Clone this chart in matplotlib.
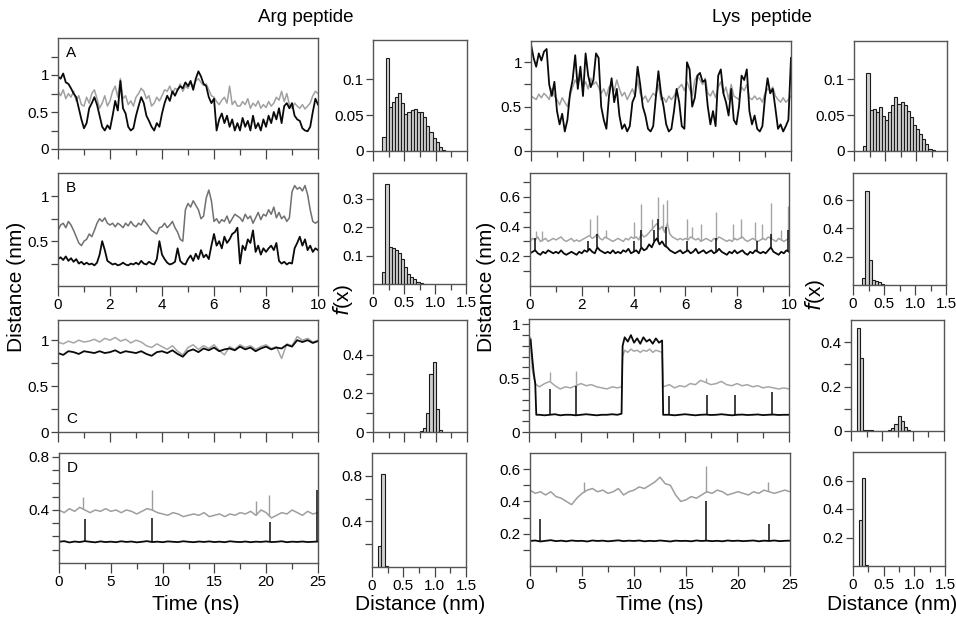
import numpy as np
import matplotlib
matplotlib.use("Agg")
import matplotlib.pyplot as plt

plt.rcParams['font.family'] = ['Liberation Sans', 'DejaVu Sans']
plt.rcParams['font.size'] = 10

# ---------------- data ----------------
t10 = np.linspace(0, 10, 101)   # 10 ns runs, 0.1 ns sampling
t25 = np.linspace(0, 25, 51)    # 25 ns runs, 0.5 ns sampling

# Arg peptide, panel A
arg_a_black = [0.98, 0.95, 1.02, 0.90, 0.88, 0.82, 0.75, 0.70, 0.55, 0.40,
               0.28, 0.35, 0.55, 0.62, 0.70, 0.60, 0.45, 0.30, 0.25, 0.32,
               0.27, 0.45, 0.65, 0.52, 0.92, 0.55, 0.48, 0.30, 0.25, 0.28,
               0.45, 0.58, 0.70, 0.62, 0.45, 0.38, 0.30, 0.25, 0.35, 0.30,
               0.48, 0.62, 0.72, 0.65, 0.78, 0.72, 0.80, 0.85, 0.82, 0.90,
               0.85, 0.92, 0.80, 0.95, 1.05, 0.98, 0.88, 0.85, 0.70, 0.62,
               0.68, 0.25, 0.40, 0.48, 0.35, 0.45, 0.30, 0.40, 0.25, 0.35,
               0.25, 0.42, 0.30, 0.38, 0.25, 0.45, 0.28, 0.35, 0.25, 0.40,
               0.30, 0.45, 0.35, 0.50, 0.40, 0.55, 0.35, 0.58, 0.62, 0.55,
               0.62, 0.45, 0.40, 0.38, 0.28, 0.25, 0.24, 0.30, 0.50, 0.68, 0.60]
arg_a_gray = [0.78, 0.72, 0.80, 0.68, 0.75, 0.70, 0.78, 0.65, 0.72, 0.60,
              0.58, 0.70, 0.62, 0.75, 0.80, 0.68, 0.55, 0.62, 0.72, 0.58,
              0.65, 0.78, 0.85, 0.70, 0.95, 0.68, 0.72, 0.60, 0.65, 0.58,
              0.70, 0.75, 0.82, 0.78, 0.68, 0.72, 0.58, 0.62, 0.70, 0.65,
              0.72, 0.80, 0.78, 0.85, 0.75, 0.82, 0.80, 0.88, 0.78, 0.85,
              0.82, 0.90, 0.84, 0.92, 0.95, 0.90, 0.86, 0.88, 0.80, 0.72,
              0.70, 0.64, 0.60, 0.66, 0.70, 0.62, 0.85, 0.60, 0.65, 0.58,
              0.58, 0.64, 0.60, 0.68, 0.55, 0.62, 0.58, 0.65, 0.55, 0.60,
              0.56, 0.64, 0.58, 0.62, 0.70, 0.66, 0.78, 0.64, 0.75, 0.60,
              0.55, 0.62, 0.58, 0.55, 0.60, 0.54, 0.58, 0.62, 0.72, 0.78, 0.75]

# Arg peptide, panel B
arg_b_black = [0.30, 0.32, 0.29, 0.33, 0.28, 0.31, 0.27, 0.30, 0.25, 0.27,
               0.24, 0.26, 0.24, 0.25, 0.23, 0.26, 0.35, 0.50, 0.40, 0.28,
               0.26, 0.24, 0.25, 0.23, 0.24, 0.26, 0.24, 0.23, 0.25, 0.24,
               0.26, 0.24, 0.28, 0.25, 0.24, 0.27, 0.25, 0.24, 0.30, 0.50,
               0.35, 0.30, 0.26, 0.24, 0.25, 0.27, 0.42, 0.28, 0.25, 0.24,
               0.30, 0.34, 0.28, 0.36, 0.30, 0.40, 0.32, 0.35, 0.30, 0.45,
               0.58, 0.45, 0.50, 0.42, 0.55, 0.48, 0.52, 0.58, 0.60, 0.65,
               0.25, 0.45, 0.40, 0.52, 0.48, 0.62, 0.38, 0.45, 0.35, 0.42,
               0.38, 0.42, 0.45, 0.40, 0.48, 0.28, 0.25, 0.27, 0.24, 0.26,
               0.25, 0.42, 0.48, 0.55, 0.45, 0.52, 0.40, 0.45, 0.38, 0.42, 0.40]
arg_b_gray = [0.62, 0.68, 0.70, 0.65, 0.72, 0.68, 0.62, 0.55, 0.48, 0.45,
              0.50, 0.52, 0.58, 0.55, 0.62, 0.70, 0.75, 0.72, 0.76, 0.70,
              0.68, 0.70, 0.66, 0.70, 0.68, 0.65, 0.70, 0.67, 0.72, 0.68,
              0.66, 0.70, 0.68, 0.74, 0.70, 0.66, 0.62, 0.60, 0.58, 0.65,
              0.66, 0.70, 0.65, 0.68, 0.72, 0.65, 0.60, 0.52, 0.50, 0.85,
              0.92, 0.88, 0.95, 0.90, 0.85, 0.75, 0.78, 0.98, 1.07, 0.95,
              0.72, 0.75, 0.70, 0.74, 0.72, 0.78, 0.70, 0.75, 0.80, 0.78,
              0.76, 0.72, 0.80, 0.75, 0.78, 0.70, 0.76, 0.82, 0.74, 0.80,
              0.78, 0.85, 0.80, 0.88, 0.76, 0.82, 0.75, 0.78, 0.72, 0.76,
              1.05, 1.12, 1.08, 1.10, 1.06, 1.12, 1.02, 0.85, 0.72, 0.70, 0.72]

# Arg peptide, panel C (25 ns)
arg_c_black = [0.86, 0.84, 0.88, 0.87, 0.85, 0.88, 0.87, 0.86, 0.88, 0.86,
               0.87, 0.89, 0.86, 0.88, 0.87, 0.86, 0.88, 0.85, 0.83, 0.87,
               0.88, 0.86, 0.89, 0.85, 0.82, 0.88, 0.90, 0.87, 0.91, 0.89,
               0.92, 0.88, 0.90, 0.91, 0.89, 0.93, 0.90, 0.92, 0.88, 0.91,
               0.93, 0.90, 0.92, 0.91, 0.95, 0.93, 1.00, 0.98, 1.00, 0.97, 0.99]
arg_c_gray = [0.98, 0.96, 0.99, 0.97, 1.00, 0.98, 0.99, 1.01, 0.98, 1.02,
              1.00, 1.03, 0.99, 1.01, 0.97, 1.00, 0.98, 0.94, 0.92, 0.96,
              0.93, 0.90, 0.94, 0.88, 0.84, 0.92, 0.95, 0.90, 0.94, 0.91,
              0.95, 0.89, 0.84, 0.93, 0.90, 0.95, 0.92, 0.94, 0.90, 0.93,
              0.95, 0.91, 0.93, 0.80, 0.96, 0.94, 1.04, 1.00, 1.02, 0.98, 1.00]

# Arg peptide, panel D (25 ns) + spikes
arg_d_black = [0.160, 0.165, 0.155, 0.162, 0.158, 0.165, 0.160, 0.156, 0.163, 0.158,
               0.161, 0.157, 0.164, 0.159, 0.162, 0.156, 0.160, 0.165, 0.158, 0.161,
               0.157, 0.163, 0.160, 0.158, 0.164, 0.160, 0.157, 0.162, 0.159, 0.163,
               0.158, 0.161, 0.157, 0.164, 0.160, 0.158, 0.162, 0.157, 0.161, 0.159,
               0.163, 0.158, 0.160, 0.164, 0.157, 0.161, 0.159, 0.162, 0.158, 0.160, 0.162]
arg_d_gray = [0.40, 0.38, 0.41, 0.39, 0.42, 0.40, 0.38, 0.40, 0.39, 0.41,
              0.39, 0.40, 0.38, 0.40, 0.39, 0.37, 0.39, 0.41, 0.40, 0.38,
              0.37, 0.36, 0.38, 0.37, 0.35, 0.36, 0.37, 0.36, 0.38, 0.35,
              0.36, 0.37, 0.35, 0.37, 0.36, 0.38, 0.37, 0.39, 0.36, 0.40,
              0.38, 0.34, 0.36, 0.38, 0.37, 0.40, 0.38, 0.36, 0.39, 0.37, 0.38]
arg_d_black_spk_t = [2.5, 9.0, 20.4, 24.9]
arg_d_black_spk_h = [0.33, 0.34, 0.31, 0.55]
arg_d_gray_spk_t = [2.3, 9.0, 19.0, 20.3]
arg_d_gray_spk_h = [0.50, 0.55, 0.47, 0.51]

# Lys peptide, panel A
lys_a_black = [1.20, 1.05, 0.95, 1.10, 1.02, 1.12, 1.15, 0.75, 0.62, 0.78,
               0.45, 0.30, 0.42, 0.22, 0.35, 0.65, 0.80, 1.08, 0.70, 0.95,
               0.62, 1.10, 0.85, 0.72, 0.80, 1.10, 1.05, 0.50, 0.35, 0.25,
               0.62, 0.82, 0.55, 0.70, 0.40, 0.25, 0.30, 0.22, 0.28, 0.55,
               0.62, 0.95, 0.75, 0.50, 0.40, 0.25, 0.22, 0.28, 0.60, 0.90,
               0.65, 0.50, 0.30, 0.22, 0.25, 0.45, 0.70, 0.55, 0.28, 0.25,
               1.00, 0.92, 0.50, 0.60, 0.85, 0.88, 0.78, 0.80, 0.50, 0.30,
               0.45, 0.28, 0.85, 0.92, 0.65, 0.55, 0.40, 0.70, 0.35, 0.30,
               0.50, 0.85, 0.80, 0.92, 0.45, 0.30, 0.40, 0.25, 0.22, 0.28,
               0.60, 0.82, 0.65, 0.70, 0.48, 0.25, 0.30, 0.22, 0.28, 0.35, 1.05]
lys_a_gray = [0.62, 0.60, 0.58, 0.64, 0.60, 0.65, 0.62, 0.58, 0.70, 0.62,
              0.58, 0.52, 0.60, 0.55, 0.50, 0.62, 0.72, 0.80, 0.75, 0.85,
              0.72, 0.78, 0.70, 0.82, 0.75, 0.78, 0.72, 0.65, 0.70, 0.62,
              0.72, 0.75, 0.68, 0.80, 0.70, 0.62, 0.66, 0.58, 0.64, 0.70,
              0.62, 0.80, 0.65, 0.58, 0.62, 0.55, 0.60, 0.65, 0.62, 0.75,
              0.58, 0.60, 0.55, 0.62, 0.58, 0.62, 0.68, 0.72, 0.75, 0.68,
              0.78, 0.70, 0.62, 0.80, 0.85, 0.80, 0.75, 0.82, 0.65, 0.62,
              0.68, 0.60, 0.72, 0.78, 0.65, 0.72, 0.58, 0.75, 0.62, 0.60,
              0.58, 0.72, 0.68, 0.75, 0.60, 0.58, 0.62, 0.58, 0.60, 0.55,
              0.65, 0.70, 0.68, 0.72, 0.62, 0.58, 0.55, 0.60, 0.55, 0.58, 0.62]

# Lys peptide, panel B + spikes
lys_b_black = [0.22, 0.23, 0.24, 0.22, 0.21, 0.23, 0.22, 0.24, 0.23, 0.22,
               0.23, 0.22, 0.24, 0.22, 0.21, 0.22, 0.23, 0.22, 0.21, 0.23,
               0.22, 0.24, 0.23, 0.25, 0.23, 0.22, 0.26, 0.24, 0.23, 0.22,
               0.23, 0.22, 0.24, 0.22, 0.23, 0.22, 0.24, 0.23, 0.25, 0.22,
               0.23, 0.24, 0.22, 0.26, 0.24, 0.25, 0.28, 0.26, 0.30, 0.32,
               0.28, 0.30, 0.27, 0.26, 0.24, 0.23, 0.22, 0.23, 0.24, 0.22,
               0.23, 0.24, 0.22, 0.23, 0.25, 0.22, 0.23, 0.24, 0.22, 0.23,
               0.24, 0.22, 0.23, 0.25, 0.23, 0.22, 0.21, 0.23, 0.22, 0.24,
               0.22, 0.23, 0.24, 0.22, 0.21, 0.23, 0.22, 0.24, 0.23, 0.22,
               0.23, 0.22, 0.24, 0.26, 0.23, 0.22, 0.21, 0.23, 0.22, 0.24, 0.23]
lys_b_gray = [0.30, 0.32, 0.31, 0.33, 0.30, 0.31, 0.32, 0.30, 0.31, 0.32,
              0.31, 0.32, 0.33, 0.31, 0.30, 0.31, 0.32, 0.30, 0.31, 0.30,
              0.31, 0.32, 0.33, 0.34, 0.32, 0.33, 0.35, 0.32, 0.31, 0.33,
              0.32, 0.31, 0.30, 0.31, 0.32, 0.31, 0.30, 0.32, 0.31, 0.33,
              0.32, 0.33, 0.31, 0.35, 0.33, 0.34, 0.36, 0.38, 0.40, 0.42,
              0.38, 0.40, 0.36, 0.42, 0.35, 0.33, 0.32, 0.31, 0.32, 0.31,
              0.32, 0.31, 0.33, 0.32, 0.31, 0.32, 0.30, 0.31, 0.32, 0.31,
              0.30, 0.32, 0.31, 0.33, 0.32, 0.31, 0.30, 0.31, 0.30, 0.32,
              0.31, 0.32, 0.33, 0.31, 0.30, 0.31, 0.32, 0.31, 0.30, 0.31,
              0.32, 0.31, 0.33, 0.32, 0.31, 0.30, 0.32, 0.31, 0.30, 0.31, 0.32]
lys_b_black_spk_t = [0.2, 2.25, 2.6, 4.0, 4.3, 4.8, 4.95, 5.25, 6.05, 7.2, 8.75, 9.3, 9.95]
lys_b_black_spk_h = [0.32, 0.30, 0.35, 0.30, 0.38, 0.38, 0.45, 0.40, 0.30, 0.32, 0.30, 0.35, 0.38]
lys_b_gray_spk_t = [0.25, 0.45, 2.3, 2.6, 2.95, 4.0, 4.3, 4.7, 4.95, 5.15, 5.3,
                    6.05, 6.25, 6.6, 7.2, 7.85, 8.15, 8.7, 8.95, 9.3, 9.7, 9.95]
lys_b_gray_spk_h = [0.37, 0.37, 0.45, 0.48, 0.38, 0.43, 0.55, 0.45, 0.60, 0.55, 0.58,
                    0.45, 0.40, 0.42, 0.50, 0.42, 0.45, 0.43, 0.42, 0.56, 0.38, 0.54]

# Lys peptide, panel C (irregular sampling around the jumps)
lys_c_t = [0.0, 0.15, 0.3, 0.45, 0.6, 0.7, 1.0, 1.5, 2.0, 2.5, 3.0, 3.5, 4.0, 4.5,
           5.0, 5.5, 6.0, 6.5, 7.0, 7.5, 8.0, 8.5, 8.9, 9.0, 9.2, 9.5, 9.8, 10.1,
           10.4, 10.7, 11.0, 11.3, 11.6, 11.9, 12.2, 12.5, 12.8, 12.9, 13.5, 14.0,
           14.5, 15.0, 15.5, 16.0, 16.5, 17.0, 17.5, 18.0, 18.5, 19.0, 19.5, 20.0,
           20.5, 21.0, 21.5, 22.0, 22.5, 23.0, 23.5, 24.0, 24.5, 25.0]
lys_c_black = [0.82, 0.86, 0.70, 0.55, 0.45, 0.16, 0.16, 0.155, 0.16, 0.165, 0.155, 0.16,
               0.16, 0.155, 0.16, 0.165, 0.16, 0.155, 0.16, 0.16, 0.165, 0.16, 0.17,
               0.80, 0.88, 0.84, 0.90, 0.83, 0.87, 0.82, 0.88, 0.84, 0.86, 0.82, 0.87,
               0.83, 0.85, 0.16, 0.16, 0.155, 0.16, 0.165, 0.16, 0.155, 0.16, 0.162,
               0.158, 0.16, 0.165, 0.16, 0.155, 0.16, 0.162, 0.158, 0.16, 0.163,
               0.157, 0.16, 0.162, 0.158, 0.16, 0.16]
lys_c_gray = [0.80, 0.88, 0.60, 0.52, 0.45, 0.44, 0.42, 0.45, 0.47, 0.43, 0.40, 0.42,
              0.41, 0.43, 0.45, 0.43, 0.44, 0.42, 0.41, 0.40, 0.42, 0.41, 0.42,
              0.70, 0.76, 0.74, 0.77, 0.75, 0.76, 0.74, 0.76, 0.75, 0.77, 0.74, 0.76,
              0.75, 0.74, 0.42, 0.44, 0.41, 0.43, 0.42, 0.45, 0.44, 0.48, 0.46,
              0.44, 0.45, 0.47, 0.44, 0.43, 0.45, 0.43, 0.44, 0.42, 0.43, 0.41,
              0.42, 0.41, 0.40, 0.41, 0.40]
lys_c_black_spk_t = [2.0, 4.5, 13.5, 17.1, 19.8, 23.4]
lys_c_black_spk_h = [0.40, 0.43, 0.33, 0.34, 0.34, 0.37]
lys_c_gray_spk_t = [2.0, 4.5, 17.0]
lys_c_gray_spk_h = [0.56, 0.57, 0.50]

# Lys peptide, panel D (25 ns) + spikes
lys_d_black = [0.155, 0.158, 0.152, 0.156, 0.160, 0.154, 0.157, 0.153, 0.158, 0.155,
               0.156, 0.152, 0.158, 0.155, 0.157, 0.153, 0.156, 0.159, 0.154, 0.157,
               0.155, 0.158, 0.153, 0.156, 0.154, 0.158, 0.155, 0.152, 0.157, 0.155,
               0.156, 0.153, 0.158, 0.155, 0.157, 0.154, 0.156, 0.153, 0.158, 0.155,
               0.157, 0.154, 0.156, 0.158, 0.153, 0.157, 0.155, 0.158, 0.154, 0.156, 0.157]
lys_d_gray = [0.47, 0.45, 0.46, 0.44, 0.46, 0.43, 0.42, 0.40, 0.38, 0.42,
              0.45, 0.47, 0.48, 0.46, 0.47, 0.45, 0.46, 0.48, 0.44, 0.46,
              0.47, 0.49, 0.48, 0.50, 0.52, 0.55, 0.51, 0.50, 0.44, 0.40,
              0.41, 0.43, 0.42, 0.44, 0.46, 0.45, 0.47, 0.46, 0.44, 0.45,
              0.46, 0.45, 0.44, 0.46, 0.45, 0.47, 0.46, 0.45, 0.46, 0.47, 0.46]
lys_d_black_spk_t = [1.0, 16.9, 23.0]
lys_d_black_spk_h = [0.29, 0.40, 0.26]
lys_d_gray_spk_t = [5.2, 16.9, 22.9]
lys_d_gray_spk_h = [0.52, 0.62, 0.52]

# distance histograms f(x): first bin edge and bar heights, bin width 0.05 nm
BIN = 0.05
arg_a_hist_start, arg_a_hist = 0.15, [0.019, 0.130, 0.061, 0.069, 0.076, 0.081, 0.067, 0.051,
                                      0.054, 0.057, 0.059, 0.055, 0.054, 0.048, 0.035, 0.026,
                                      0.018, 0.012, 0.005, 0.002, 0.0005]
arg_b_hist_start, arg_b_hist = 0.15, [0.042, 0.353, 0.130, 0.127, 0.120, 0.108, 0.088, 0.058,
                                      0.036, 0.025, 0.016, 0.008, 0.004, 0.001]
arg_c_hist_start, arg_c_hist = 0.75, [0.005, 0.020, 0.100, 0.300, 0.360, 0.120, 0.010]
arg_d_hist_start, arg_d_hist = 0.10, [0.18, 0.82, 0.01]
lys_a_hist_start, lys_a_hist = 0.15, [0.007, 0.108, 0.057, 0.059, 0.054, 0.061, 0.048, 0.043,
                                      0.054, 0.064, 0.075, 0.066, 0.068, 0.064, 0.055, 0.047,
                                      0.036, 0.031, 0.024, 0.017, 0.010, 0.003, 0.001]
lys_b_hist_start, lys_b_hist = 0.15, [0.047, 0.666, 0.176, 0.035, 0.030, 0.019, 0.007, 0.002]
lys_c_hist_start, lys_c_hist = 0.10, [0.466, 0.330, 0.005, 0.003, 0.003, 0.002, 0.002, 0.002,
                                      0.002, 0.002, 0.003, 0.012, 0.030, 0.068, 0.045, 0.020,
                                      0.005]
lys_d_hist_start, lys_d_hist = 0.10, [0.32, 0.62, 0.005]

# ---------------- figure ----------------
W, H = 956, 620
fig = plt.figure(figsize=(W / 100, H / 100), dpi=100)

FRAME = '#555555'
GRAY = '#a0a0a0'


def box(x0, y0, x1, y1):
    # pixel box -> figure axes
    return fig.add_axes([x0 / W, 1 - y1 / H, (x1 - x0) / W, (y1 - y0) / H])


def style(ax, xlim, ylim, xmaj, xmin, ymaj, ylab, ymin, xlab=None):
    ax.set_xlim(xlim)
    ax.set_ylim(ylim)
    ax.set_xticks(xmaj)
    ax.set_xticks(xmin, minor=True)
    ax.set_xticklabels(xlab if xlab is not None else [])
    ax.set_yticks(ymaj)
    ax.set_yticklabels(ylab)
    ax.set_yticks(ymin, minor=True)
    ax.tick_params(axis='both', which='both', direction='out', color='#444444',
                   width=0.9, labelsize=11, pad=1.5)
    ax.tick_params(axis='x', which='major', length=7)
    ax.tick_params(axis='x', which='minor', length=4.5)
    ax.tick_params(axis='y', which='both', length=5)
    for s in ax.spines.values():
        s.set_color(FRAME)
        s.set_linewidth(1.0)


def trace(ax, t, black, gray, gcol=GRAY, spikes=None, lw=1.3):
    ax.plot(t, gray, color=gcol, lw=1.1)
    ax.plot(t, black, color='#0a0a0a', lw=lw)
    if spikes:
        bt, bh, gt, gh = spikes
        ax.vlines(gt, np.interp(gt, t, gray), gh, color=gcol, lw=1.0)
        ax.vlines(bt, np.interp(bt, t, black), bh, color='#0a0a0a', lw=1.1)


def hist(ax, start, heights):
    edges = start + BIN * np.arange(len(heights))
    ax.bar(edges, heights, width=BIN, align='edge', color='#cfcfcf',
           edgecolor='#1a1a1a', linewidth=0.8)


x10 = dict(xlim=(0, 10), xmaj=[0, 2, 4, 6, 8, 10], xmin=[1, 3, 5, 7, 9])
x25 = dict(xlim=(0, 25), xmaj=[0, 5, 10, 15, 20, 25], xmin=[2.5, 7.5, 12.5, 17.5, 22.5])
xh = dict(xlim=(0, 1.5), xmaj=[0, 0.5, 1.0, 1.5], xmin=[0.25, 0.75, 1.25])
lab10 = ['0', '2', '4', '6', '8', '10']
lab25 = ['0', '5', '10', '15', '20', '25']
labh = ['0', '0.5', '1.0', '1.5']

# ---- Arg peptide time series ----
ax = box(58, 38, 318, 149)
trace(ax, t10, arg_a_black, arg_a_gray)
style(ax, ylim=(0, 1.5), ymaj=[0, 0.5, 1], ylab=['0', '0.5', '1'], ymin=[0.25, 0.75, 1.25], **x10)
ax.text(0.03, 0.93, 'A', transform=ax.transAxes, fontsize=11, va='top')

ax = box(58, 173, 318, 286)
trace(ax, t10, arg_b_black, arg_b_gray, gcol='#707070')
style(ax, ylim=(0, 1.26), ymaj=[0.5, 1], ylab=['0.5', '1'], ymin=[0.25, 0.75], xlab=lab10, **x10)
ax.text(0.03, 0.93, 'B', transform=ax.transAxes, fontsize=11, va='top')

ax = box(58, 320, 318, 432)
trace(ax, t25, arg_c_black, arg_c_gray, gcol='#a6a6a6')
style(ax, ylim=(0, 1.22), ymaj=[0, 0.5, 1], ylab=['0', '0.5', '1'], ymin=[0.25, 0.75], **x25)
ax.text(0.03, 0.05, 'C', transform=ax.transAxes, fontsize=11, va='bottom')

ax = box(59, 453, 318, 563)
trace(ax, t25, arg_d_black, arg_d_gray, gcol='#9e9e9e',
      spikes=(arg_d_black_spk_t, arg_d_black_spk_h, arg_d_gray_spk_t, arg_d_gray_spk_h))
style(ax, ylim=(0, 0.83), ymaj=[0.4, 0.8], ylab=['0.4', '0.8'],
      ymin=[0.1, 0.2, 0.3, 0.5, 0.6, 0.7], xlab=lab25, **x25)
ax.text(0.03, 0.93, 'D', transform=ax.transAxes, fontsize=11, va='top')

# ---- Arg peptide histograms ----
ax = box(373, 40, 467, 151)
hist(ax, arg_a_hist_start, arg_a_hist)
style(ax, ylim=(0, 0.155), ymaj=[0, 0.05, 0.1], ylab=['0', '0.05', '0.1'], ymin=[], **xh)

ax = box(373, 173, 466, 284)
hist(ax, arg_b_hist_start, arg_b_hist)
style(ax, ylim=(0, 0.39), ymaj=[0.1, 0.2, 0.3], ylab=['0.1', '0.2', '0.3'], ymin=[], xlab=labh, **xh)

ax = box(373, 320, 467, 432)
hist(ax, arg_c_hist_start, arg_c_hist)
style(ax, ylim=(0, 0.58), ymaj=[0, 0.2, 0.4], ylab=['0', '0.2', '0.4'], ymin=[0.1, 0.3], **xh)

ax = box(372, 453, 466, 567)
hist(ax, arg_d_hist_start, arg_d_hist)
style(ax, ylim=(0, 1.0), ymaj=[0.4, 0.8], ylab=['0.4', '0.8'], ymin=[0.2, 0.6], xlab=labh, **xh)

# ---- Lys peptide time series ----
ax = box(531, 41, 791, 151)
trace(ax, t10, lys_a_black, lys_a_gray)
style(ax, ylim=(0, 1.24), ymaj=[0, 0.5, 1], ylab=['0', '0.5', '1'], ymin=[0.25, 0.75], **x10)

ax = box(530, 173, 789, 286)
trace(ax, t10, lys_b_black, lys_b_gray, gcol='#a4a4a4',
      spikes=(lys_b_black_spk_t, lys_b_black_spk_h, lys_b_gray_spk_t, lys_b_gray_spk_h))
style(ax, ylim=(0, 0.76), ymaj=[0.2, 0.4, 0.6], ylab=['0.2', '0.4', '0.6'],
      ymin=[0.1, 0.3, 0.5, 0.7], xlab=lab10, **x10)

ax = box(529, 319, 789, 432)
trace(ax, lys_c_t, lys_c_black, lys_c_gray, gcol='#a6a6a6',
      spikes=(lys_c_black_spk_t, lys_c_black_spk_h, lys_c_gray_spk_t, lys_c_gray_spk_h))
style(ax, ylim=(0, 1.05), ymaj=[0, 0.5, 1], ylab=['0', '0.5', '1'],
      ymin=[0.1, 0.2, 0.3, 0.4, 0.6, 0.7, 0.8, 0.9], **x25)

ax = box(530, 453, 790, 566)
trace(ax, t25, lys_d_black, lys_d_gray, gcol='#9e9e9e',
      spikes=(lys_d_black_spk_t, lys_d_black_spk_h, lys_d_gray_spk_t, lys_d_gray_spk_h))
style(ax, ylim=(0, 0.7), ymaj=[0.2, 0.4, 0.6], ylab=['0.2', '0.4', '0.6'],
      ymin=[0.1, 0.3, 0.5], xlab=lab25, **x25)

# ---- Lys peptide histograms ----
ax = box(854, 41, 947, 151)
hist(ax, lys_a_hist_start, lys_a_hist)
style(ax, ylim=(0, 0.153), ymaj=[0, 0.05, 0.1], ylab=['0', '0.05', '0.1'], ymin=[], **xh)

ax = box(853, 173, 946, 285)
hist(ax, lys_b_hist_start, lys_b_hist)
style(ax, ylim=(0, 0.79), ymaj=[0.2, 0.4, 0.6], ylab=['0.2', '0.4', '0.6'], ymin=[], xlab=labh, **xh)

ax = box(851, 320, 944, 431)
hist(ax, lys_c_hist_start, lys_c_hist)
style(ax, ylim=(0, 0.5), ymaj=[0, 0.2, 0.4], ylab=['0', '0.2', '0.4'], ymin=[0.1, 0.3], **xh)

ax = box(853, 452, 945, 566)
hist(ax, lys_d_hist_start, lys_d_hist)
style(ax, ylim=(0, 0.8), ymaj=[0.2, 0.4, 0.6], ylab=['0.2', '0.4', '0.6'], ymin=[], xlab=labh, **xh)

# ---- labels ----
fig.text(306 / W, 1 - 18 / H, 'Arg peptide', fontsize=13.5, ha='center', va='center')
fig.text(762 / W, 1 - 18 / H, 'Lys  peptide', fontsize=13.5, ha='center', va='center')
fig.text(17 / W, 1 - 287 / H, 'Distance (nm)', fontsize=15, rotation=90, ha='center', va='center')
fig.text(486 / W, 1 - 287 / H, 'Distance (nm)', fontsize=15, rotation=90, ha='center', va='center')
fig.text(343 / W, 1 - 300 / H, r'$f$(x)', fontsize=15, rotation=90, ha='center', va='center')
fig.text(815 / W, 1 - 295 / H, r'$f$(x)', fontsize=15, rotation=90, ha='center', va='center')
fig.text(196 / W, 1 - 605 / H, 'Time (ns)', fontsize=15, ha='center', va='center')
fig.text(660 / W, 1 - 605 / H, 'Time (ns)', fontsize=15, ha='center', va='center')
fig.text(420 / W, 1 - 605 / H, 'Distance (nm)', fontsize=15, ha='center', va='center')
fig.text(892 / W, 1 - 605 / H, 'Distance (nm)', fontsize=15, ha='center', va='center')

fig.savefig('out.png', dpi=100)
